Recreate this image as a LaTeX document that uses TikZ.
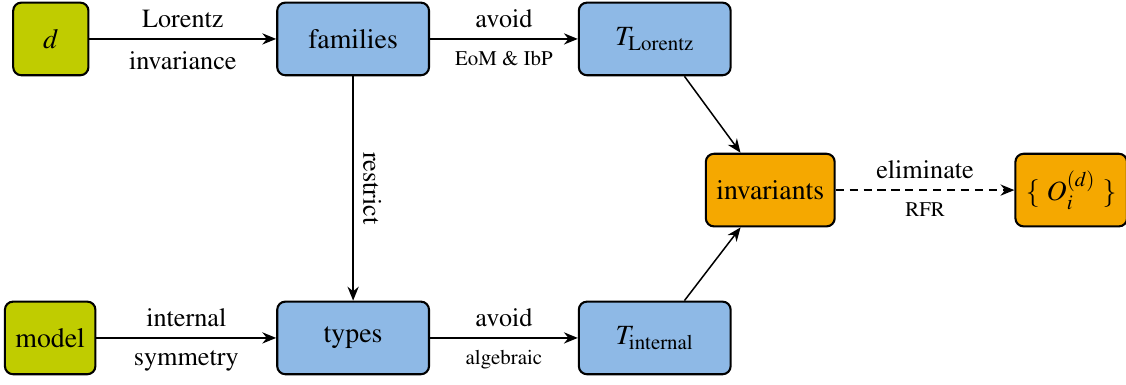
\documentclass[tikz,border=0pt]{standalone}
\usepackage[T1]{fontenc}
\usepackage{mathptmx}
\usetikzlibrary{arrows.meta, calc, positioning}
\definecolor{opgreen}{HTML}{C0CC00}
\definecolor{opblue}{HTML}{8EB9E6}
\definecolor{oporange}{HTML}{F5A800}
\newcommand{\labelsize}{\fontsize{11.3}{13.5}\selectfont}
\tikzset{
  stagebox/.style={
    draw=black,
    rounded corners=3.5pt,
    line width=0.9pt,
    align=center,
    inner xsep=4.5pt,
    minimum height=1.1cm,
    font=\large
  },
  inputbox/.style={stagebox, fill=opgreen, minimum width=1.14cm},
  setbox/.style={stagebox, fill=opblue, minimum width=2.3cm},
  resultbox/.style={stagebox, fill=oporange, minimum width=1.6cm},
  steparrow/.style={
    -{Stealth[length=2.1mm,width=1.7mm]},
    line width=0.65pt
  },
  toplabel/.style={above, inner sep=4.5pt, font=\labelsize},
  botlabel/.style={below, inner sep=5.2pt, font=\labelsize},
  smalllabel/.style={below, inner sep=5.2pt, font=\small}
}
\begin{document}
\begin{tikzpicture}[x=1cm,y=1cm]
\useasboundingbox (0,0) rectangle (17.06,-5.83);

\node[inputbox] (dim) at (0.77,-0.59) {$d$};
\node[setbox] (families) at (5.35,-0.59) {families};
\node[setbox] (tlorentz) at (9.92,-0.59)
  {$T_{\mathrm{Lorentz}}$};

\node[resultbox] (invariants) at (11.67,-2.88) {invariants};
\node[resultbox] (operators) at (16.23,-2.88)
  {$\{\ O_{i}^{(d)}\ \}$};

\node[inputbox] (model) at (0.76,-5.12) {model};
\node[setbox] (types) at (5.35,-5.12) {types};
\node[setbox] (tinternal) at (9.92,-5.12)
  {$T_{\mathrm{internal}}$};

\draw[steparrow] (dim) -- (families)
  node[midway, toplabel] (lorentzlbl) {Lorentz}
  node[midway, botlabel] (invarlbl) {invariance};
\draw[steparrow] (families) -- (tlorentz)
  node[midway, toplabel] (avoidtop) {avoid}
  node[midway, smalllabel] (eomlbl) {EoM \& IbP};
\draw[steparrow] (families) -- (types)
  node[midway, anchor=south, rotate=-90, inner sep=4pt, font=\labelsize] (restrictlbl) {restrict};
\draw[steparrow] (model) -- (types)
  node[midway, toplabel] (internallbl) {internal}
  node[midway, botlabel] (symlbl) {symmetry};
\draw[steparrow] (types) -- (tinternal)
  node[midway, toplabel] (avoidbot) {avoid}
  node[midway, smalllabel] (alglbl) {algebraic};
\draw[steparrow] ([xshift=0.45cm]tlorentz.south) -- ([xshift=-0.45cm]invariants.north);
\draw[steparrow] ([xshift=0.45cm]tinternal.north) -- ([xshift=-0.45cm]invariants.south);
\draw[steparrow, dash pattern=on 3.5pt off 2.5pt] (invariants) -- (operators)
  node[midway, toplabel] (elimlbl) {eliminate}
  node[midway, smalllabel] (rfrlbl) {RFR};
\end{tikzpicture}
\end{document}
